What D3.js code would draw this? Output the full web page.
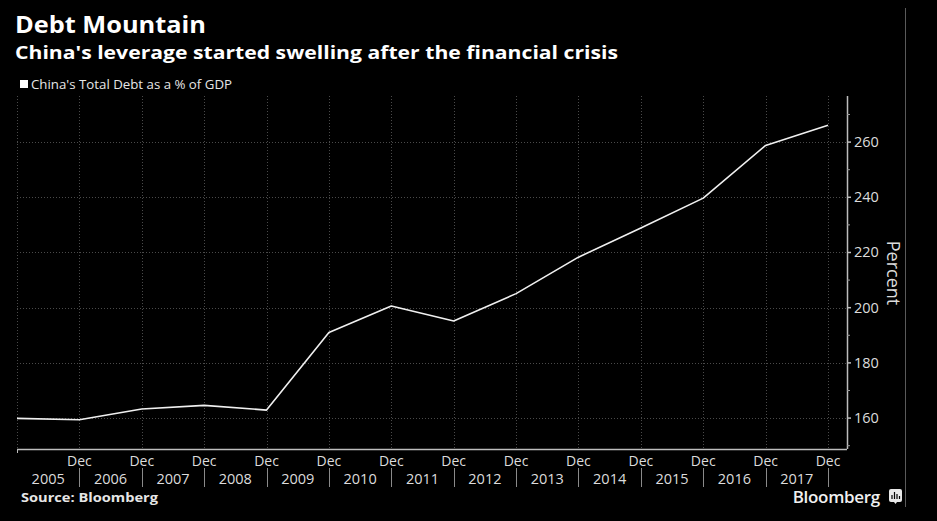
<!DOCTYPE html>
<html>
<head>
<meta charset="utf-8">
<script src="https://cdn.jsdelivr.net/npm/d3@7"></script>
<style>
  html, body { margin: 0; padding: 0; background: #000; }
  svg { display: block; }
  text { font-family: "Open Sans", "DejaVu Sans", sans-serif; }
</style>
</head>
<body>
<svg id="chart" width="937" height="521"></svg>
<script>
// ---- data ----
const title = "Debt Mountain";
const subtitle = "China's leverage started swelling after the financial crisis";
const seriesName = "China's Total Debt as a % of GDP";
const years = [2004, 2005, 2006, 2007, 2008, 2009, 2010, 2011, 2012, 2013, 2014, 2015, 2016, 2017];
const debtPct = [159.9, 159.4, 163.3, 164.6, 162.9, 191.0, 200.6, 195.2, 205.1, 218.3, 228.9, 239.7, 258.8, 266.1];
const yTicks = [160, 180, 200, 220, 240, 260];
const yMinorTicks = [150, 170, 190, 210, 230, 250, 270];
const decTicks = [2005, 2006, 2007, 2008, 2009, 2010, 2011, 2012, 2013, 2014, 2015, 2016, 2017];
const yearLabels = [2005, 2006, 2007, 2008, 2009, 2010, 2011, 2012, 2013, 2014, 2015, 2016, 2017];
const yAxisTitle = "Percent";
const source = "Source: Bloomberg";

// ---- layout ----
const svg = d3.select("#chart");
const plot = { left: 17, right: 828, axisX: 847, top: 96, bottom: 449 };

const x = d3.scaleLinear().domain([2004, 2017]).range([plot.left, plot.right]);
const y = d3.scaleLinear().domain([148.8, 276.7]).range([plot.bottom, plot.top]);

// frame line on right
svg.append("line").attr("x1", 905.5).attr("x2", 905.5).attr("y1", 8).attr("y2", 507)
  .attr("stroke", "#5a5a5a").attr("stroke-width", 1);

// titles
svg.append("text").attr("x", 15).attr("y", 33).attr("fill", "#fff")
  .attr("font-size", 23).attr("font-weight", 700)
  .attr("textLength", 191).attr("lengthAdjust", "spacingAndGlyphs").text(title);
svg.append("text").attr("x", 15).attr("y", 59).attr("fill", "#fff")
  .attr("font-size", 18.5).attr("font-weight", 700)
  .attr("textLength", 603).attr("lengthAdjust", "spacingAndGlyphs").text(subtitle);

// legend
svg.append("rect").attr("x", 20).attr("y", 80).attr("width", 8).attr("height", 8).attr("fill", "#fff");
svg.append("text").attr("x", 31).attr("y", 89).attr("fill", "#e6e6e6")
  .attr("font-size", 12.5).attr("textLength", 201).attr("lengthAdjust", "spacingAndGlyphs").text(seriesName);

// gridlines
const grid = svg.append("g");
grid.selectAll("line.h").data(yTicks).join("line")
  .attr("x1", plot.left).attr("x2", plot.axisX)
  .attr("y1", d => Math.round(y(d)) + 0.5).attr("y2", d => Math.round(y(d)) + 0.5)
  .attr("stroke", "#4a4a4a").attr("stroke-dasharray", "1,2");
grid.selectAll("line.v").data([2004].concat(decTicks)).join("line")
  .attr("x1", d => Math.round(x(d)) + 0.5).attr("x2", d => Math.round(x(d)) + 0.5)
  .attr("y1", plot.top).attr("y2", plot.bottom)
  .attr("stroke", "#4a4a4a").attr("stroke-dasharray", "1,2");

// x axis
const xa = svg.append("g");
xa.append("line").attr("x1", plot.left).attr("x2", plot.axisX)
  .attr("y1", plot.bottom + 0.5).attr("y2", plot.bottom + 0.5)
  .attr("stroke", "#bdbdbd").attr("stroke-width", 1.5);
xa.append("line").attr("x1", x(2004) + 0.5).attr("x2", x(2004) + 0.5)
  .attr("y1", plot.bottom).attr("y2", plot.bottom + 4).attr("stroke", "#bdbdbd");
xa.selectAll("text.dec").data(decTicks).join("text")
  .attr("x", d => x(d)).attr("y", 466).attr("text-anchor", "middle")
  .attr("fill", "#dcdcdc").attr("font-size", 14).text("Dec");
xa.selectAll("line.sep").data(decTicks).join("line")
  .attr("x1", d => Math.round(x(d)) + 0.5).attr("x2", d => Math.round(x(d)) + 0.5)
  .attr("y1", 468).attr("y2", 487).attr("stroke", "#8a8a8a");
xa.selectAll("text.yr").data(yearLabels).join("text")
  .attr("x", d => (x(d - 1) + x(d)) / 2).attr("y", 484).attr("text-anchor", "middle")
  .attr("fill", "#dcdcdc").attr("font-size", 14.5).text(d => d);

// y axis (right)
const ya = svg.append("g");
ya.append("line").attr("x1", plot.axisX + 0.5).attr("x2", plot.axisX + 0.5)
  .attr("y1", plot.top).attr("y2", plot.bottom)
  .attr("stroke", "#bdbdbd").attr("stroke-width", 1.5);
ya.selectAll("line.maj").data(yTicks).join("line")
  .attr("x1", plot.axisX).attr("x2", plot.axisX + 4)
  .attr("y1", d => y(d)).attr("y2", d => y(d)).attr("stroke", "#bdbdbd").attr("stroke-width", 1.5);
ya.selectAll("line.min").data(yMinorTicks).join("line")
  .attr("x1", plot.axisX).attr("x2", plot.axisX + 3)
  .attr("y1", d => y(d)).attr("y2", d => y(d)).attr("stroke", "#9a9a9a");
ya.selectAll("text").data(yTicks).join("text")
  .attr("x", 854).attr("y", d => y(d) + 5)
  .attr("fill", "#dcdcdc").attr("font-size", 14.5).text(d => d);
svg.append("text")
  .attr("transform", "translate(887, 273) rotate(90)")
  .attr("text-anchor", "middle").attr("fill", "#dcdcdc").attr("font-size", 18).text(yAxisTitle);

// line
const line = d3.line().x((d, i) => x(years[i])).y(d => y(d));
svg.append("path").datum(debtPct).attr("d", line)
  .attr("fill", "none").attr("stroke", "#f0f0f0").attr("stroke-width", 1.6)
  .attr("stroke-linejoin", "round");

// footer
svg.append("text").attr("x", 21).attr("y", 502).attr("fill", "#e6e6e6")
  .attr("font-size", 13).attr("font-weight", 700)
  .attr("textLength", 137).attr("lengthAdjust", "spacingAndGlyphs").text(source);
svg.append("text").attr("x", 880).attr("y", 503).attr("text-anchor", "end").attr("fill", "#f0f0f0")
  .attr("font-size", 17).attr("font-weight", 600).attr("letter-spacing", -0.3).text("Bloomberg");
const logo = svg.append("g").attr("transform", "translate(889,489)");
logo.append("rect").attr("width", 13).attr("height", 13).attr("rx", 2).attr("fill", "#e8e8e8");
logo.append("path").attr("d", "M5,13 L6.5,15 L8,13 Z").attr("fill", "#e8e8e8");
[[3, 6, 4], [5.5, 3, 7], [8, 5, 5], [10.5, 7, 3]].forEach(b => {
  logo.append("rect").attr("x", b[0] - 0.6).attr("y", b[1]).attr("width", 1.2).attr("height", b[2]).attr("fill", "#000");
});
</script>
</body>
</html>
